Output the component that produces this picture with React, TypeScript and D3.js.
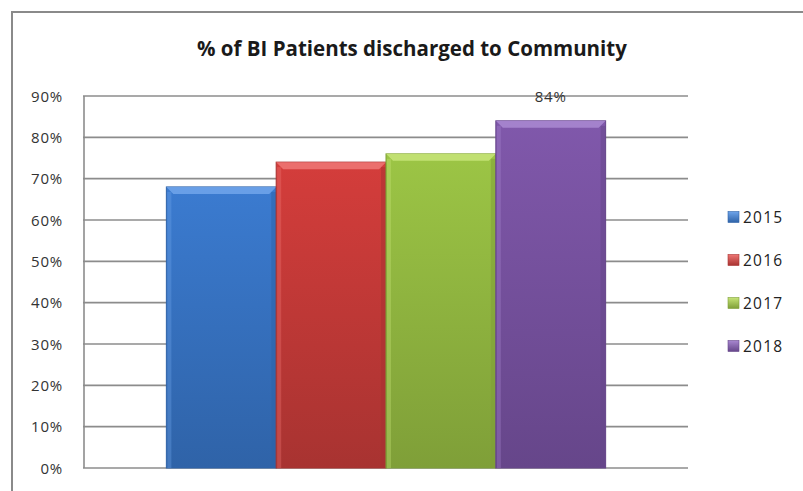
import { useEffect, useRef } from 'react';
import * as d3 from 'd3';

const years = ['2015', '2016', '2017', '2018'];
const values = [68, 74, 76, 84];
const colors = ['#3b7bd0', '#d43d3b', '#9cc545', '#8058ab'];
const darkColors = ['#2f63a8', '#a83331', '#7f9f38', '#66468a'];
const lightColors = ['#6ea4ea', '#ee7573', '#c6e477', '#a887d0'];
const yTicks = [0, 10, 20, 30, 40, 50, 60, 70, 80, 90];
const labelled = ['2018'];

const W = 803;
const H = 491;
const FONT = 'Open Sans, sans-serif';

export default function App() {
  const ref = useRef<SVGSVGElement>(null);

  useEffect(() => {
    if (!ref.current) return;
    const svg = d3.select(ref.current);
    svg.selectAll('*').remove();

    const m = { left: 84, right: 688, top: 96, bottom: 468 };
    const y = d3.scaleLinear().domain([0, 90]).range([m.bottom, m.top]);
    // one category, gap width 150%
    const band = d3.scaleBand().domain(['c']).range([m.left, m.right]);
    const barW = band.bandwidth() / (years.length + 1.5);
    const x = d3.scaleBand().domain(years)
      .range([m.left + barW * 0.75, m.left + barW * 0.75 + barW * years.length]);

    const defs = svg.append('defs');
    years.forEach((yr, i) => {
      const g = defs.append('linearGradient').attr('id', `bar-${yr}`)
        .attr('x1', '0%').attr('y1', '0%').attr('x2', '0%').attr('y2', '100%');
      g.append('stop').attr('offset', '0%').attr('stop-color', colors[i]);
      g.append('stop').attr('offset', '100%').attr('stop-color', darkColors[i]);
      const lg = defs.append('linearGradient').attr('id', `leg-${yr}`)
        .attr('x1', '0%').attr('y1', '0%').attr('x2', '0%').attr('y2', '100%');
      lg.append('stop').attr('offset', '0%').attr('stop-color', lightColors[i]);
      lg.append('stop').attr('offset', '100%').attr('stop-color', darkColors[i]);
    });
    const blur = defs.append('filter').attr('id', 'soft').attr('x', '-5%').attr('y', '-5%').attr('width', '110%').attr('height', '110%');
    blur.append('feGaussianBlur').attr('stdDeviation', 0.6);

    // outer frame
    svg.append('rect').attr('x', 12).attr('y', 12).attr('width', W).attr('height', H)
      .attr('fill', 'white').attr('stroke', '#8a8a8a').attr('stroke-width', 2);

    svg.append('text').attr('x', 412).attr('y', 56).attr('text-anchor', 'middle')
      .attr('font-family', FONT).attr('font-weight', 700).attr('font-size', 20.5)
      .attr('fill', '#1a1a1a').text('% of BI Patients discharged to Community');

    // gridlines
    svg.append('g').selectAll('line').data(yTicks).enter().append('line')
      .attr('x1', m.left - 1).attr('x2', m.right)
      .attr('y1', d => y(d)).attr('y2', d => y(d))
      .attr('stroke', '#8c8c8c').attr('stroke-width', 1.6);
    svg.append('line').attr('x1', m.left).attr('x2', m.left).attr('y1', m.top).attr('y2', m.bottom)
      .attr('stroke', '#8c8c8c').attr('stroke-width', 1.6);

    svg.append('g').selectAll('text').data(yTicks).enter().append('text')
      .attr('x', 63).attr('y', d => y(d) + 5.5).attr('text-anchor', 'end')
      .attr('font-family', FONT).attr('font-size', 15).attr('letter-spacing', 0.8).attr('fill', '#333')
      .text(d => `${d}%`);

    // bars
    const bars = svg.append('g').selectAll('g').data(years).enter().append('g');
    bars.append('rect')
      .attr('x', d => x(d)!).attr('width', x.bandwidth())
      .attr('y', (d, i) => y(values[i])).attr('height', (d, i) => m.bottom - y(values[i]))
      .attr('fill', d => `url(#bar-${d})`).attr('stroke', (d, i) => darkColors[i]).attr('stroke-width', 1);
    // top bevel
    bars.append('path')
      .attr('d', (d, i) => {
        const x0 = x(d)!; const x1 = x0 + x.bandwidth(); const t = y(values[i]); const b = 7;
        return `M${x0},${t}L${x1},${t}L${x1 - b},${t + b}L${x0 + b},${t + b}Z`;
      })
      .attr('fill', (d, i) => lightColors[i]).attr('opacity', 0.9).attr('filter', 'url(#soft)');
    // side shading
    bars.append('rect')
      .attr('x', d => x(d)! + x.bandwidth() - 5).attr('width', 5)
      .attr('y', (d, i) => y(values[i]) + 5).attr('height', (d, i) => m.bottom - y(values[i]) - 5)
      .attr('fill', (d, i) => darkColors[i]).attr('opacity', 0.5).attr('filter', 'url(#soft)');
    bars.append('rect')
      .attr('x', d => x(d)! + 1).attr('width', 4)
      .attr('y', (d, i) => y(values[i]) + 5).attr('height', (d, i) => m.bottom - y(values[i]) - 5)
      .attr('fill', (d, i) => lightColors[i]).attr('opacity', 0.35).attr('filter', 'url(#soft)');

    // data label
    years.forEach((yr, i) => {
      if (!labelled.includes(yr)) return;
      svg.append('text').attr('x', x(yr)! + x.bandwidth() / 2).attr('y', y(values[i]) - 19)
        .attr('text-anchor', 'middle').attr('font-family', FONT)
        .attr('font-size', 15).attr('letter-spacing', 0.8).attr('fill', '#333').text(`${values[i]}%`);
    });

    // legend
    const leg = svg.append('g').selectAll('g').data(years).enter().append('g')
      .attr('transform', (d, i) => `translate(728,${217 + i * 43})`);
    leg.append('rect').attr('x', 0).attr('y', -5.5).attr('width', 11).attr('height', 11)
      .attr('fill', d => `url(#leg-${d})`).attr('stroke', (d, i) => darkColors[i]).attr('stroke-width', 0.6);
    leg.append('text').attr('x', 15).attr('y', 5.5)
      .attr('font-family', FONT).attr('font-size', 15.5).attr('letter-spacing', 1.2).attr('fill', '#222')
      .text(d => d);
  }, []);

  return (
    <svg ref={ref} width={W} height={H}
      style={{ position: 'absolute', left: 0, top: 0, background: 'white' }} />
  );
}
